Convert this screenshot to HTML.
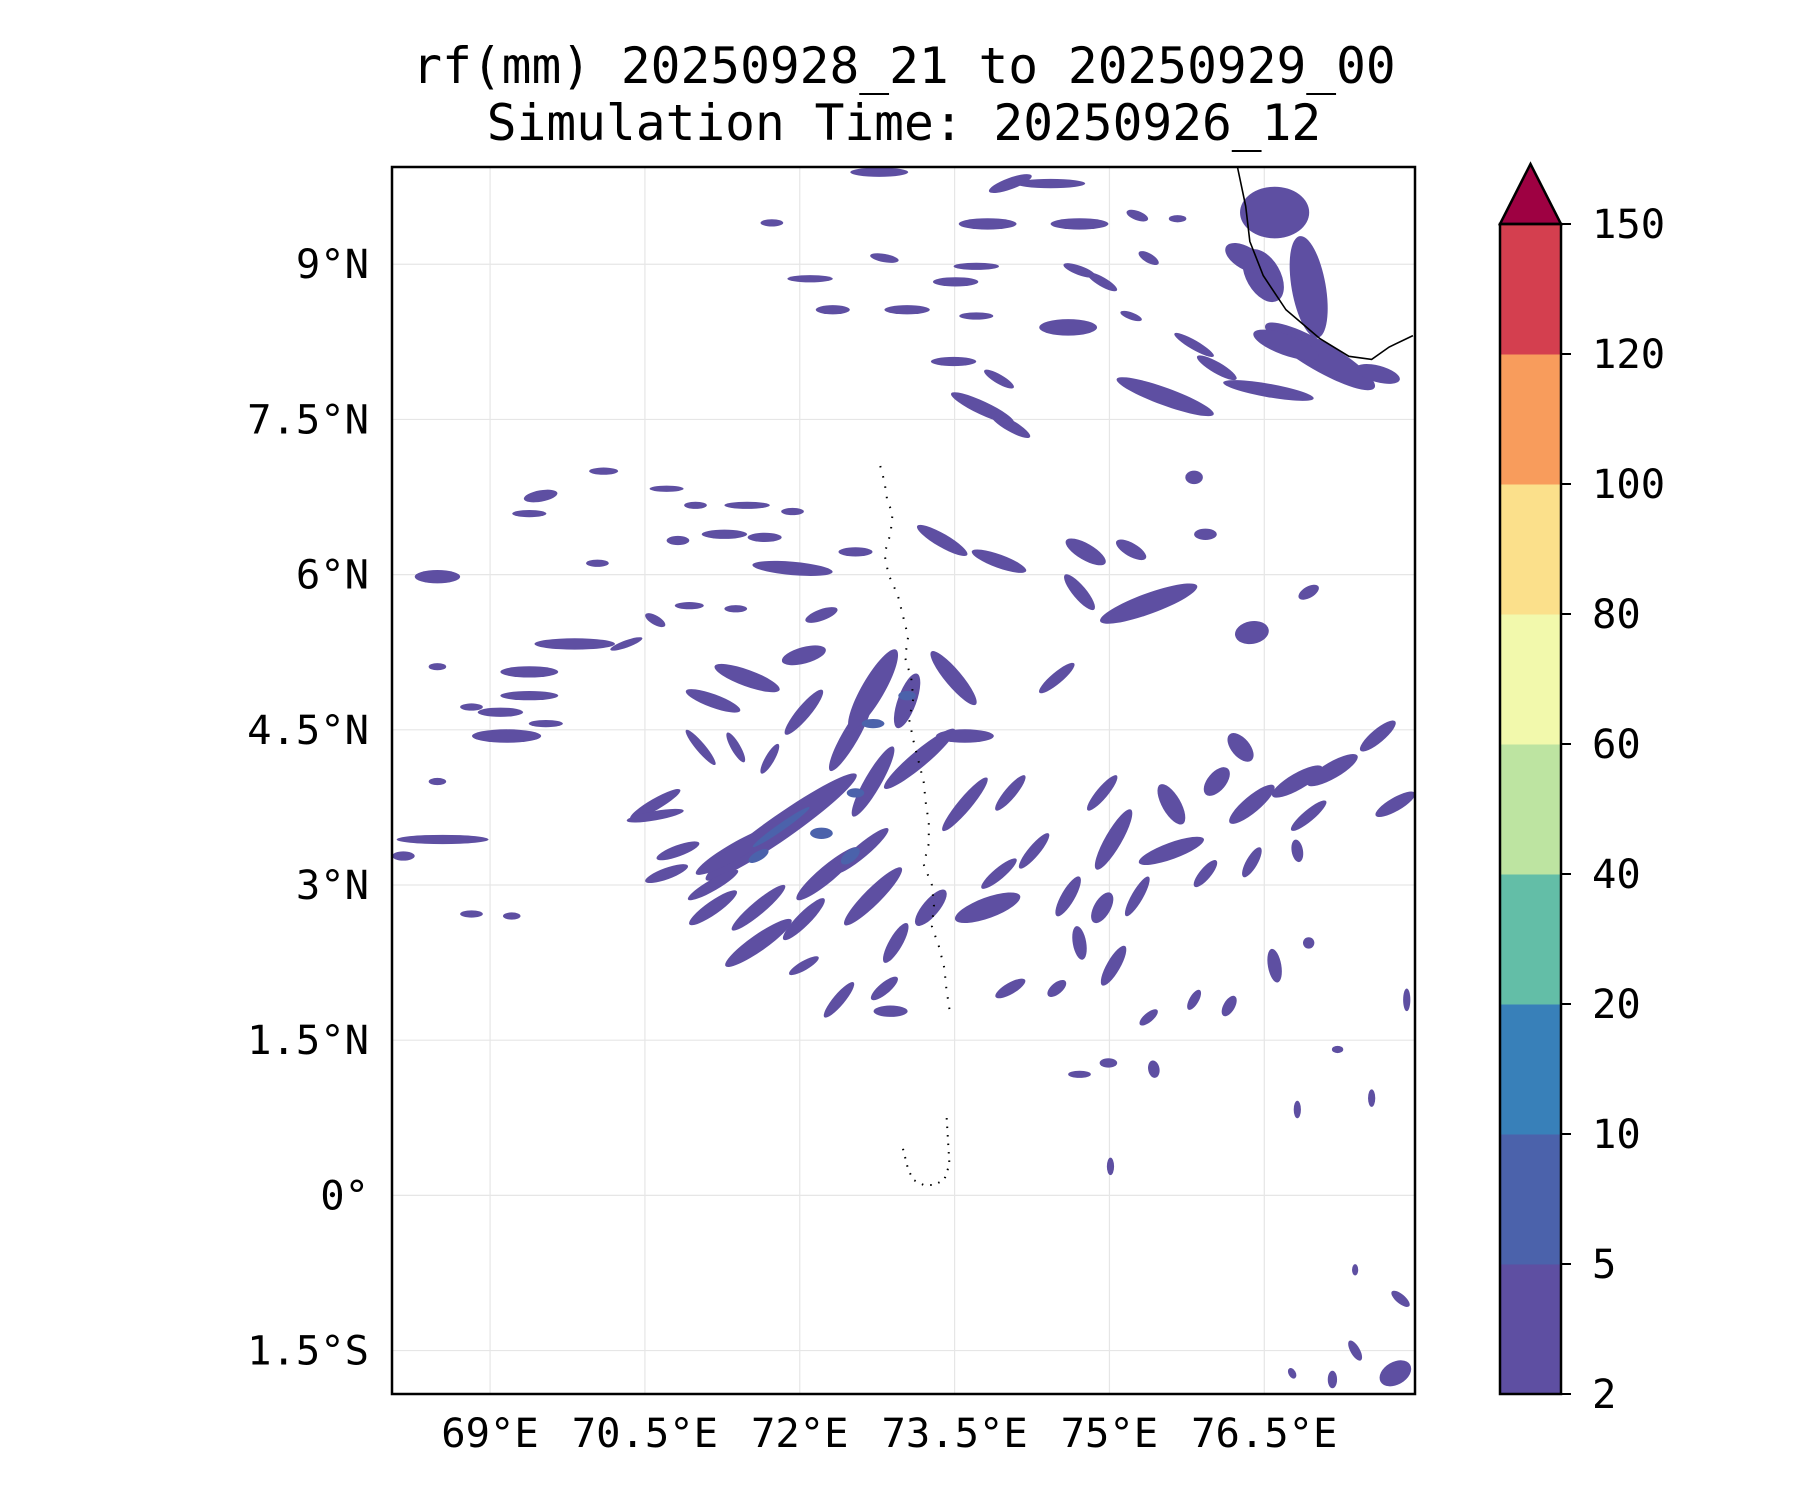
<!DOCTYPE html>
<html><head><meta charset="utf-8">
<style>
html,body{margin:0;padding:0;background:#fff;}
svg{display:block;font-family:"DejaVu Sans Mono","Liberation Mono",monospace;}
</style></head>
<body>
<svg id="chart" width="1800" height="1500" viewBox="0 0 1800 1500" xmlns="http://www.w3.org/2000/svg">
<text x="904" y="83" font-size="49.5" text-anchor="middle" fill="#000">rf(mm) 20250928_21 to 20250929_00</text>
<text x="904" y="140" font-size="49.5" text-anchor="middle" fill="#000">Simulation Time: 20250926_12</text>
<g id="grid"></g>
<g id="blobs"></g>
<g id="coast"></g>
<rect x="392" y="167" width="1023" height="1227" fill="none" stroke="#000" stroke-width="2.5"/>
<g id="xaxis"></g>
<g id="yaxis"></g>
<g id="cbar"></g>
</svg>
<script>
const lonTicks=[69,70.5,72,73.5,75,76.5];
const lonLabels=["69°E","70.5°E","72°E","73.5°E","75°E","76.5°E"];
const latTicks=[9,7.5,6,4.5,3,1.5,0,-1.5];
const latLabels=["9°N","7.5°N","6°N","4.5°N","3°N","1.5°N","0°","1.5°S"];
const cbLevels=[2,5,10,20,40,60,80,100,120,150];
const cbColors=["#5e4fa2","#4b62ab","#3880b9","#63bea7","#bde4a1","#f2f9ac","#fbe08b","#f89c5c","#d43f4f"];
const cbExtendColor="#9e0142";
// blobs: lon, lat, lengthDeg, widthDeg, angle(screen deg), level index
const blobLon=[74.04,74.43,72.77,73.82,74.71,71.73,72.82,73.71,74.71,75.38,75.27,75.66,72.10,73.51,74.93,72.32,73.04,73.71,74.60,75.21,75.82,75.54,73.49,73.93,73.77,74.04,76.54,76.04,
76.6,76.49,76.93,77.04,76.71,76.32,77.6,
69.49,69.38,70.1,70.71,70.99,71.49,71.93,71.27,71.66,70.82,71.93,72.54,68.49,70.04,73.38,73.93,74.77,75.21,74.71,75.38,75.82,75.93,76.38,76.93,
69.82,69.38,69.38,69.16,69.1,68.82,69.54,68.49,70.32,70.6,70.93,71.38,72.21,72.04,71.49,71.16,71.04,70.6,71.38,71.71,72.04,72.49,72.71,73.04,72.71,73.16,73.6,73.49,73.6,74.04,74.49,74.93,75.04,75.6,75.6,76.04,76.27,76.38,76.82,77.16,77.6,77.77,76.93,76.38,76.82,
71.82,71.38,71.16,71.6,71.6,72.04,72.27,72.6,72.71,72.93,73.27,73.82,73.93,74.27,74.6,74.93,75.27,74.71,75.04,75.93,72.38,72.82,72.88,74.04,74.49,75.82,76.16,75.38,72.04,71.16,70.82,70.71,70.6,68.49,68.54,68.16,68.82,69.21,76.6,76.93,74.71,74.99,75.43,77.88,77.54,76.82,75.01,77.82,77.38,77.77,77.16,76.77,77.21,77.38,
72.21,72.49,72.71,73.04,71.6,72.54,71.82];
const blobLat=[9.78,9.78,9.89,9.39,9.39,9.40,9.06,8.98,8.94,9.06,9.47,9.44,8.86,8.83,8.83,8.56,8.56,8.50,8.39,8.50,8.22,7.72,8.06,7.89,7.61,7.44,7.78,8.0,
9.5,8.89,8.78,8.11,8.22,9.06,7.94,
6.76,6.59,7.0,6.83,6.67,6.67,6.61,6.39,6.36,6.33,6.06,6.22,5.98,6.11,6.33,6.13,6.22,6.24,5.83,5.72,6.94,6.39,5.44,5.83,
5.33,5.06,4.83,4.44,4.67,4.72,4.56,5.11,5.33,5.56,5.70,5.67,5.61,5.22,5.0,4.78,4.33,3.78,4.33,4.22,4.67,4.44,4.89,4.78,4.0,4.22,4.44,5.0,3.78,3.89,5.0,3.89,3.44,3.33,3.78,4.0,4.33,3.78,4.0,4.11,4.44,3.78,3.67,3.22,3.33,
3.56,3.33,3.0,2.78,2.44,2.67,3.11,3.33,2.89,2.44,2.78,2.78,3.11,3.33,2.89,2.78,2.89,2.44,2.22,3.11,1.89,2.0,1.78,2.0,2.0,1.89,1.83,1.72,2.22,2.78,3.33,3.11,3.67,4.0,3.44,3.28,2.72,2.7,2.22,2.44,1.17,1.28,1.22,1.89,0.94,0.83,0.28,-1.0,-1.5,-1.72,-1.78,-1.72,1.41,-0.72,
3.5,3.28,4.56,4.83,3.28,3.89,3.56];
const blobLen=[0.44,0.67,0.56,0.56,0.56,0.22,0.28,0.44,0.33,0.22,0.22,0.17,0.44,0.44,0.33,0.33,0.44,0.33,0.56,0.22,0.44,1.0,0.44,0.33,0.67,0.44,0.89,0.44,
0.67,0.56,1.0,1.22,0.67,0.44,0.44,
0.33,0.33,0.28,0.33,0.22,0.44,0.22,0.44,0.33,0.22,0.78,0.33,0.44,0.22,0.56,0.56,0.44,0.33,0.44,1.0,0.17,0.22,0.22,0.22,
0.78,0.56,0.56,0.67,0.44,0.22,0.33,0.17,0.33,0.22,0.28,0.22,0.33,0.44,0.67,0.56,0.44,0.56,0.33,0.33,0.56,0.78,0.89,0.56,0.78,0.89,0.56,0.67,0.67,0.44,0.44,0.44,0.67,0.67,0.44,0.33,0.33,0.56,0.56,0.56,0.44,0.44,0.44,0.33,0.22,
1.78,0.89,0.56,0.67,0.78,0.56,0.78,0.67,0.78,0.44,0.44,0.67,0.44,0.44,0.44,0.33,0.44,0.33,0.44,0.33,0.44,0.33,0.33,0.33,0.22,0.22,0.22,0.22,0.33,0.56,0.44,0.44,0.56,0.17,0.89,0.22,0.22,0.17,0.33,0.11,0.22,0.17,0.17,0.22,0.17,0.17,0.17,0.22,0.22,0.33,0.17,0.11,0.11,0.11,
0.22,0.22,0.22,0.17,0.22,0.17,0.67];
const blobWid=[0.11,0.09,0.09,0.11,0.11,0.07,0.08,0.07,0.09,0.09,0.09,0.07,0.07,0.09,0.09,0.09,0.09,0.07,0.16,0.07,0.09,0.17,0.09,0.09,0.13,0.11,0.13,0.11,
0.5,0.33,0.33,0.28,0.2,0.22,0.16,
0.11,0.07,0.07,0.06,0.07,0.07,0.07,0.09,0.09,0.09,0.13,0.09,0.13,0.07,0.13,0.13,0.16,0.13,0.13,0.2,0.13,0.11,0.33,0.11,
0.11,0.11,0.09,0.13,0.09,0.07,0.07,0.07,0.07,0.09,0.07,0.07,0.11,0.16,0.16,0.13,0.09,0.11,0.09,0.09,0.13,0.16,0.22,0.18,0.16,0.16,0.13,0.16,0.13,0.11,0.11,0.11,0.16,0.16,0.18,0.18,0.18,0.16,0.16,0.16,0.13,0.13,0.11,0.11,0.11,
0.24,0.16,0.11,0.13,0.16,0.13,0.16,0.13,0.16,0.13,0.16,0.2,0.11,0.11,0.13,0.16,0.11,0.13,0.13,0.11,0.11,0.11,0.11,0.11,0.11,0.09,0.11,0.09,0.09,0.13,0.11,0.11,0.09,0.07,0.09,0.09,0.07,0.07,0.13,0.11,0.07,0.09,0.11,0.07,0.07,0.07,0.07,0.09,0.09,0.22,0.09,0.07,0.07,0.06,
0.11,0.11,0.09,0.09,0.09,0.09,0.07];
const blobAng=[-20,0,0,0,0,0,10,0,20,30,20,0,0,0,30,0,0,0,0,20,30,20,0,30,25,30,10,30,
0,60,80,30,20,30,15,
-10,0,0,0,0,0,0,0,0,0,5,0,0,0,30,20,30,30,50,-20,0,0,80,-30,
0,0,0,0,0,0,0,0,-20,30,0,0,-20,-15,20,20,50,-30,60,-60,-50,-60,-60,-70,-60,-40,0,50,-50,-50,-40,-50,-60,-20,60,-50,50,-40,-30,-30,-40,-30,-40,-60,80,
-35,-30,-30,-40,-35,-45,-40,-40,-45,-60,-50,-20,-40,-50,-60,-60,-60,80,-60,-50,-50,-40,0,-30,-40,-60,-60,-40,-30,-35,-20,-20,-10,0,0,0,0,0,80,0,0,0,80,90,90,90,90,40,60,-30,90,60,0,90,
0,-40,0,0,-30,0,-35];
const blobLvl=[0,0,0,0,0,0,0,0,0,0,0,0,0,0,0,0,0,0,0,0,0,0,0,0,0,0,0,0,
0,0,0,0,0,0,0,
0,0,0,0,0,0,0,0,0,0,0,0,0,0,0,0,0,0,0,0,0,0,0,0,
0,0,0,0,0,0,0,0,0,0,0,0,0,0,0,0,0,0,0,0,0,0,0,0,0,0,0,0,0,0,0,0,0,0,0,0,0,0,0,0,0,0,0,0,0,
0,0,0,0,0,0,0,0,0,0,0,0,0,0,0,0,0,0,0,0,0,0,0,0,0,0,0,0,0,0,0,0,0,0,0,0,0,0,0,0,0,0,0,0,0,0,0,0,0,0,0,0,0,0,
1,1,1,1,1,1,1];
const coastLon=[76.24,76.32,76.36,76.49,76.71,77.04,77.32,77.54,77.71,77.94];
const coastLat=[9.94,9.56,9.22,8.89,8.56,8.28,8.11,8.08,8.2,8.31];
const atollLon=[72.78,72.82,72.85,72.9,72.88,72.82,72.86,72.95,73.0,73.05,73.02,73.08,73.1,73.06,73.1,73.15,73.2,73.22,73.25,73.25,73.2,73.28,73.3,73.28,73.35,73.4,73.42,73.45];
const atollLat=[7.05,6.9,6.7,6.6,6.4,6.2,6.0,5.8,5.6,5.4,5.2,5.0,4.8,4.6,4.4,4.2,4.0,3.8,3.6,3.4,3.2,3.0,2.8,2.6,2.4,2.2,2.0,1.8];
const atoll2Lon=[73.0,73.05,73.1,73.2,73.3,73.4,73.45,73.42];
const atoll2Lat=[0.45,0.25,0.15,0.1,0.1,0.15,0.3,0.8];

const NS="http://www.w3.org/2000/svg";
const PL=392,PT=167,PW=1023,PH=1227;
const LON0=68.05,LON1=77.96,LAT0=-1.92,LAT1=9.94;
const xS=lon=>PL+(lon-LON0)/(LON1-LON0)*PW;
const yS=lat=>PT+(LAT1-lat)/(LAT1-LAT0)*PH;
const pxPerDeg=PW/(LON1-LON0);
function mk(tag,attrs,parent){const e=document.createElementNS(NS,tag);for(const k in attrs)e.setAttribute(k,attrs[k]);parent.appendChild(e);return e;}

const svg=document.getElementById('chart');
const defs=mk('defs',{},svg);
const cp=mk('clipPath',{id:'plotclip'},defs);
mk('rect',{x:PL,y:PT,width:PW,height:PH},cp);

const grid=document.getElementById('grid');
lonTicks.forEach((v,i)=>{
  const l=mk('line',{x1:xS(v),x2:xS(v),y1:PT,y2:PT+PH,stroke:'#e6e6e6','stroke-width':1.2},grid);
  
  
});
latTicks.forEach((v,i)=>{
  const l=mk('line',{x1:PL,x2:PL+PW,y1:yS(v),y2:yS(v),stroke:'#e6e6e6','stroke-width':1.2},grid);
  
  
});

const bg=document.getElementById('blobs');
bg.setAttribute('clip-path','url(#plotclip)');
for(let i=0;i<blobLon.length;i++){
  const cx=xS(blobLon[i]),cy=yS(blobLat[i]);
  const e=mk('ellipse',{cx:cx,cy:cy,rx:blobLen[i]*pxPerDeg/2,ry:blobWid[i]*pxPerDeg/2,fill:cbColors[blobLvl[i]],transform:`rotate(${blobAng[i]} ${cx} ${cy})`},bg);
  
  
}

const coast=document.getElementById('coast');
const cl=mk('polyline',{points:coastLon.map((v,i)=>xS(v)+','+yS(coastLat[i])).join(' '),fill:'none',stroke:'#000','stroke-width':1.6},coast);


const at=mk('polyline',{points:atollLon.map((v,i)=>xS(v)+','+yS(atollLat[i])).join(' '),fill:'none',stroke:'#000','stroke-width':2,'stroke-dasharray':'1.5 9'},coast);


const at2=mk('polyline',{points:atoll2Lon.map((v,i)=>xS(v)+','+yS(atoll2Lat[i])).join(' '),fill:'none',stroke:'#000','stroke-width':2,'stroke-dasharray':'1.5 7'},coast);



const xa=document.getElementById('xaxis');
lonTicks.forEach((v,i)=>{
  const t=mk('text',{x:xS(v),y:1447,'font-size':40.5,'text-anchor':'middle',fill:'#000'},xa);
  t.textContent=lonLabels[i];
  
  
});
const ya=document.getElementById('yaxis');
latTicks.forEach((v,i)=>{
  const t=mk('text',{x:369,y:yS(v)+14,'font-size':40.5,'text-anchor':'end',fill:'#000'},ya);
  t.textContent=latLabels[i];
  
  
});

const cb=document.getElementById('cbar');
const CX=1500,CW=61,CT=224,CB=1394;
const band=(CB-CT)/(cbLevels.length-1);
cbColors.forEach((c,i)=>{
  const r=mk('rect',{x:CX,y:CB-(i+1)*band,width:CW,height:band+0.5,fill:c},cb);
  
  
});
const tri=mk('polygon',{points:`${CX},${CT} ${CX+CW/2},164 ${CX+CW},${CT}`,fill:cbExtendColor,stroke:'#000','stroke-width':2.5},cb);


const fr=mk('rect',{x:CX,y:CT,width:CW,height:CB-CT,fill:'none',stroke:'#000','stroke-width':2.5},cb);


cbLevels.forEach((v,i)=>{
  const y=CB-i*band;
  const tk=mk('line',{x1:CX+CW,x2:CX+CW+10,y1:y,y2:y,stroke:'#000','stroke-width':2},cb);
  
  
  const t=mk('text',{x:1592,y:y+14,'font-size':40.5,fill:'#000'},cb);
  t.textContent=String(v);
  
  
});
</script>
</body></html>
